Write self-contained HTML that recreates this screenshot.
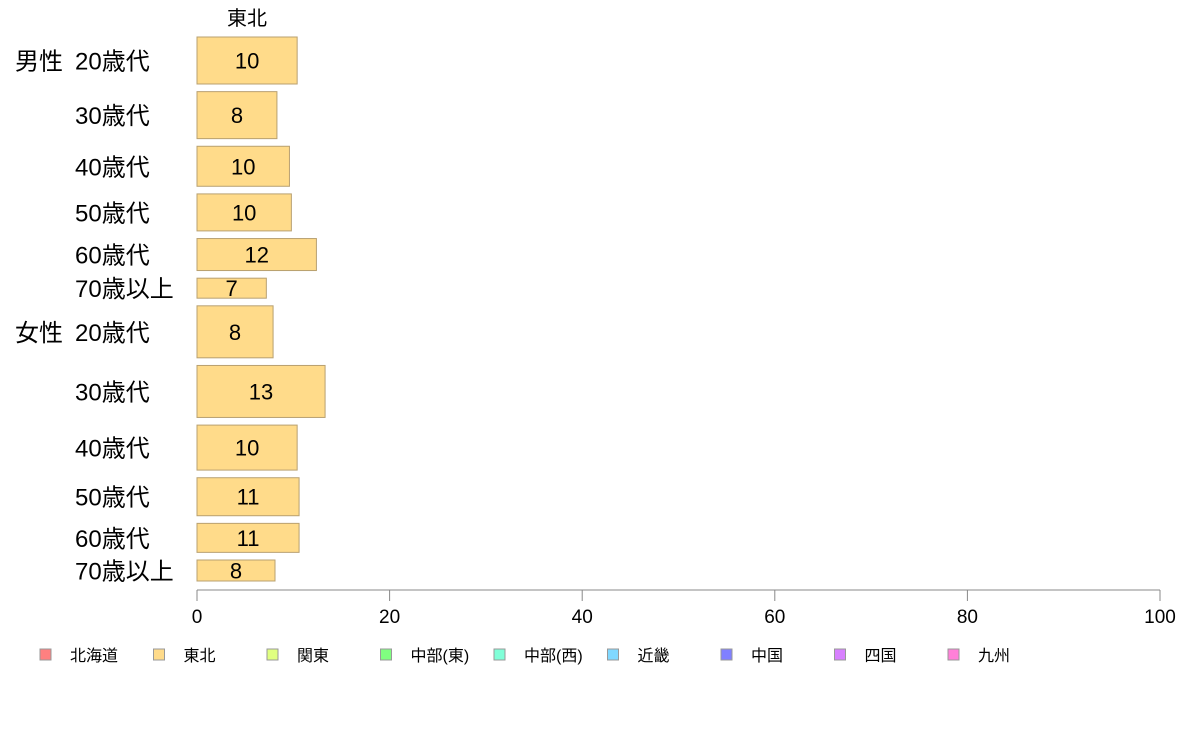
<!DOCTYPE html>
<html><head><meta charset="utf-8"><style>
body{margin:0;background:#fff;width:1188px;height:736px;overflow:hidden}
svg text{font-family:"Liberation Sans","Noto Sans CJK JP",sans-serif;fill:#000}
</style></head><body>
<svg id="chart" width="1188" height="736">
<text x="247" y="25" font-size="20" text-anchor="middle">東北</text>
<g id="bars"></g><g id="axis"></g><g id="legend"></g>
</svg>
<script>
const groups = ["男性","","","","","","女性","","","","",""];
const categories = ["20歳代","30歳代","40歳代","50歳代","60歳代","70歳以上","20歳代","30歳代","40歳代","50歳代","60歳代","70歳以上"];
const values = [10.4,8.3,9.6,9.8,12.4,7.2,7.9,13.3,10.4,10.6,10.6,8.1];
const sizes = [47,47,40,37,32,20,52,52,45,38,29,21];
const ticks = [0,20,40,60,80,100];
const legendLabels = ["北海道","東北","関東","中部(東)","中部(西)","近畿","中国","四国","九州"];
const legendColors = ["#ff8080","#ffdb8a","#e0ff80","#80ff80","#80ffd8","#80d8ff","#8080ff","#d880ff","#ff80d8"];
const NS="http://www.w3.org/2000/svg";
const x0=197,x1=1160,top0=37,bottom=581;
const xs=v=>x0+(v/100)*(x1-x0);
const gap=7.64;
const total=sizes.reduce((a,b)=>a+b,0);
const scale=(bottom-top0-gap*(sizes.length-1))/total;
function mk(t,a,p){const e=document.createElementNS(NS,t);for(const k in a)e.setAttribute(k,a[k]);p.appendChild(e);return e;}
const bars=document.getElementById('bars');
let y=top0;
values.forEach((v,i)=>{
  const h=sizes[i]*scale;
  const r=mk('rect',{x:x0,y:y,width:xs(v)-x0,height:h,fill:'#ffdb8a',stroke:'#b8a070','stroke-width':1},bars);
  
  
  const t=mk('text',{x:(x0+xs(v))/2,y:y+h/2+8,'font-size':22,'text-anchor':'middle'},bars);
  t.textContent=Math.round(v);
  
  
  const c=mk('text',{x:75,y:y+h/2+9,'font-size':24},bars);
  c.textContent=categories[i];
  
  
  if(groups[i]){
    const g=mk('text',{x:15,y:y+h/2+9,'font-size':24},bars);
    g.textContent=groups[i];
    
    
  }
  y+=h+gap;
});
const ax=document.getElementById('axis');
const line=mk('line',{x1:x0,x2:x1,y1:590,y2:590,stroke:'#888','stroke-width':1},ax);


ticks.forEach(t=>{
  const l=mk('line',{x1:xs(t),x2:xs(t),y1:590,y2:601,stroke:'#888'},ax);
  
  
  const tx=mk('text',{x:xs(t),y:623,'font-size':19,'text-anchor':'middle'},ax);
  tx.textContent=t;
  
  
});
const lg=document.getElementById('legend');
legendLabels.forEach((n,i)=>{
  const lx=40+i*113.5;
  const s=mk('rect',{x:lx,y:649,width:11,height:11,fill:legendColors[i],stroke:'#999'},lg);
  
  
  const t=mk('text',{x:lx+30,y:661,'font-size':16},lg);
  t.textContent=n;
  
  
});
</script>
</body></html>
